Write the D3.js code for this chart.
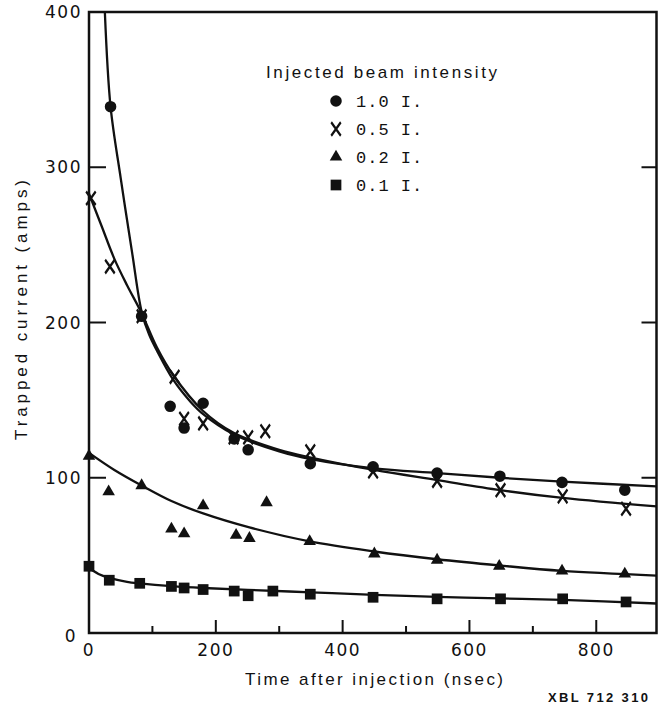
<!DOCTYPE html>
<html>
<head>
<meta charset="utf-8">
<script src="https://cdn.jsdelivr.net/npm/d3@7"></script>
<style>
    body { margin: 0; background: #fff; }
    svg { display: block; }
    text { fill: #111; }
</style>
</head>
<body>
<svg id="chart" width="668" height="711"></svg>
<script>
// DATA: time (nsec), trapped current (amps)
var series = [ "1.0 I.", "0.5 I.", "0.2 I.", "0.1 I." ];

var full = [ [ 34, 339 ], [ 83, 204 ], [ 128, 146 ], [ 150, 132 ], [ 180, 148 ], [ 229, 125 ], [ 251, 118 ], [ 349, 109 ], [ 448, 107 ], [ 549, 103 ], [ 648, 101 ], [ 746, 97 ], [ 845, 92 ] ];
var half = [ [ 3, 280 ], [ 33, 236 ], [ 83, 204 ], [ 135, 165 ], [ 150, 138 ], [ 180, 135 ], [ 228, 126 ], [ 251, 126 ], [ 278, 130 ], [ 349, 117 ], [ 448, 104 ], [ 549, 98 ], [ 649, 92 ], [ 747, 88 ], [ 847, 80 ] ];
var fifth = [ [ 0, 114 ], [ 31, 91 ], [ 83, 95 ], [ 130, 67 ], [ 150, 64 ], [ 180, 82 ], [ 232, 63 ], [ 253, 61 ], [ 280, 84 ], [ 348, 59 ], [ 450, 51 ], [ 549, 47 ], [ 647, 43 ], [ 746, 40 ], [ 845, 38 ] ];
var tenth = [ [ 0, 43 ], [ 32, 34 ], [ 80, 32 ], [ 130, 30 ], [ 150, 29 ], [ 180, 28 ], [ 229, 27 ], [ 251, 24 ], [ 290, 27 ], [ 349, 25 ], [ 448, 23 ], [ 549, 22 ], [ 649, 22 ], [ 747, 22 ], [ 847, 20 ] ];

// hand drawn fit curves
var fullFit = [ [ 25, 400 ], [ 34, 339 ], [ 50, 293 ], [ 68, 245 ], [ 83, 207 ], [ 95, 192 ], [ 107, 182 ], [ 133, 163 ], [ 160, 149 ], [ 180, 141 ], [ 228, 128 ], [ 300, 117 ], [ 350, 112 ], [ 450, 106 ], [ 549, 103 ], [ 648, 100 ], [ 746, 97.5 ], [ 895, 94.5 ] ];
var halfFit = [ [ 0, 283 ], [ 20, 262 ], [ 40, 241 ], [ 60, 224 ], [ 83, 206 ], [ 107, 184 ], [ 133, 166 ], [ 180, 143 ], [ 228, 129 ], [ 300, 118 ], [ 350, 113 ], [ 450, 105 ], [ 549, 98.5 ], [ 649, 92 ], [ 747, 87 ], [ 895, 81.5 ] ];
var fifthFit = [ [ 0, 116 ], [ 40, 105 ], [ 83, 95 ], [ 130, 85 ], [ 180, 77 ], [ 253, 68 ], [ 348, 59 ], [ 450, 52.5 ], [ 549, 47.5 ], [ 647, 43.5 ], [ 746, 40 ], [ 895, 37 ] ];
var tenthFit = [ [ 0, 42 ], [ 15, 38 ], [ 32, 35.5 ], [ 60, 33 ], [ 80, 32 ], [ 130, 30.2 ], [ 180, 29 ], [ 250, 27.8 ], [ 350, 26.2 ], [ 450, 24.6 ], [ 549, 23.3 ], [ 649, 22.3 ], [ 747, 21.3 ], [ 895, 19 ] ];

var xTicks = [ 0, 200, 400, 600, 800 ];
var xMinorTicks = [ 100, 300, 500, 700 ];
var yTicks = [ 0, 100, 200, 300, 400 ];

var xMax = 895;
var yMax = 400;

// SCALES
var svg = d3.select( "#chart" );
var x = d3.scaleLinear().domain( [ 0, xMax ] ).range( [ 89, 656.5 ] );
var y = d3.scaleLinear().domain( [ 0, yMax ] ).range( [ 633, 12 ] );

var ink = "#111";

// FRAME (box round the plot)
svg.append( "rect" )
    .attr( "x", x( 0 ) )
    .attr( "y", y( yMax ) )
    .attr( "width", x( xMax ) - x( 0 ) )
    .attr( "height", y( 0 ) - y( yMax ) )
    .attr( "fill", "none" )
    .attr( "stroke", ink )
    .attr( "stroke-width", 2.5 );

// inward ticks on left, right and bottom
var tickLayer = svg.append( "g" ).attr( "stroke", ink ).attr( "stroke-width", 2 );

yTicks.filter( d => d > 0 && d < yMax ).forEach( function ( d ) {
    tickLayer.append( "line" )
        .attr( "x1", x( 0 ) ).attr( "x2", x( 0 ) + 17 )
        .attr( "y1", y( d ) ).attr( "y2", y( d ) );
    tickLayer.append( "line" )
        .attr( "x1", x( xMax ) ).attr( "x2", x( xMax ) - 15 )
        .attr( "y1", y( d ) ).attr( "y2", y( d ) );
} );

xTicks.filter( d => d > 0 ).forEach( function ( d ) {
    tickLayer.append( "line" )
        .attr( "x1", x( d ) ).attr( "x2", x( d ) )
        .attr( "y1", y( 0 ) ).attr( "y2", y( 0 ) - 13 );
} );
xMinorTicks.forEach( function ( d ) {
    tickLayer.append( "line" )
        .attr( "x1", x( d ) ).attr( "x2", x( d ) )
        .attr( "y1", y( 0 ) ).attr( "y2", y( 0 ) - 7 );
} );

// TICK LABELS
var labelFont = "'DejaVu Sans', sans-serif";

svg.append( "g" ).selectAll( "text" )
    .data( yTicks )
    .enter()
    .append( "text" )
    .attr( "x", d => d === 0 ? x( 0 ) - 12 : x( 0 ) - 7 )
    .attr( "y", d => y( d ) )
    .attr( "dy", d => d === 0 ? "0.55em" : "0.36em" )
    .attr( "text-anchor", "end" )
    .attr( "font-family", labelFont )
    .attr( "font-size", 17 )
    .attr( "letter-spacing", 1.5 )
    .text( d => d );

svg.append( "g" ).selectAll( "text" )
    .data( xTicks )
    .enter()
    .append( "text" )
    .attr( "x", d => x( d ) )
    .attr( "y", y( 0 ) + 23 )
    .attr( "text-anchor", "middle" )
    .attr( "font-family", labelFont )
    .attr( "font-size", 17 )
    .attr( "letter-spacing", 1.5 )
    .text( d => d );

// AXIS TITLES
svg.append( "text" )
    .attr( "x", 245 )
    .attr( "y", 685 )
    .attr( "font-family", "'Liberation Sans', sans-serif" )
    .attr( "font-size", 17 )
    .attr( "textLength", 258 )
    .attr( "lengthAdjust", "spacing" )
    .text( "Time after injection (nsec)" );

svg.append( "text" )
    .attr( "transform", "translate(27,440) rotate(-90)" )
    .attr( "font-family", "'Liberation Sans', sans-serif" )
    .attr( "font-size", 17 )
    .attr( "textLength", 260 )
    .attr( "lengthAdjust", "spacing" )
    .text( "Trapped current (amps)" );

svg.append( "text" )
    .attr( "x", 548 )
    .attr( "y", 702 )
    .attr( "font-family", "'Liberation Sans', sans-serif" )
    .attr( "font-weight", "bold" )
    .attr( "font-size", 13 )
    .attr( "textLength", 100 )
    .attr( "lengthAdjust", "spacing" )
    .text( "XBL 712 310" );

// MARKERS
var shapes = [
    { sym: d3.symbolCircle, size: 105, fill: true },
    { sym: d3.symbolX, size: 85, fill: false },
    { sym: d3.symbolTriangle, size: 68, fill: true },
    { sym: d3.symbolSquare, size: 115, fill: true }
];

function drawMarker( g, i, px, py ) {
    var s = shapes[ i ];
    var p = g.append( "path" )
        .attr( "d", d3.symbol( s.sym, s.size )() );
    if ( s.fill ) {
        p.attr( "fill", ink ).attr( "transform", "translate(" + px + "," + py + ")" );
    } else {
        p.attr( "fill", "none" )
            .attr( "stroke", ink )
            .attr( "stroke-width", 2.4 )
            .attr( "transform", "translate(" + px + "," + py + ") scale(0.85,1.2)" );
    }
}

// FIT CURVES
var line = d3.line()
    .x( d => x( d[ 0 ] ) )
    .y( d => y( d[ 1 ] ) )
    .curve( d3.curveCatmullRom.alpha( 0.5 ) );

svg.append( "clipPath" ).attr( "id", "plot-clip" )
    .append( "rect" )
    .attr( "x", x( 0 ) ).attr( "y", y( yMax ) )
    .attr( "width", x( xMax ) - x( 0 ) ).attr( "height", y( 0 ) - y( yMax ) );

var curves = svg.append( "g" ).attr( "clip-path", "url(#plot-clip)" );
[ fullFit, halfFit, fifthFit, tenthFit ].forEach( function ( fit ) {
    curves.append( "path" )
        .attr( "d", line( fit ) )
        .attr( "fill", "none" )
        .attr( "stroke", ink )
        .attr( "stroke-width", 2.3 );
} );

// DATA POINTS
var points = svg.append( "g" );
[ full, half, fifth, tenth ].forEach( function ( set, i ) {
    set.forEach( function ( d ) {
        drawMarker( points, i, x( d[ 0 ] ), y( d[ 1 ] ) );
    } );
} );

// LEGEND
var legend = svg.append( "g" );
legend.append( "text" )
    .attr( "x", 266 )
    .attr( "y", 78 )
    .attr( "font-family", "'Liberation Sans', sans-serif" )
    .attr( "font-size", 17 )
    .attr( "textLength", 231 )
    .attr( "lengthAdjust", "spacing" )
    .text( "Injected beam intensity" );

series.forEach( function ( name, i ) {
    var cy = 101 + i * 28;
    drawMarker( legend, i, 336, cy );
    legend.append( "text" )
        .attr( "x", 356 )
        .attr( "y", cy + 6 )
        .attr( "font-family", "'Liberation Mono', monospace" )
        .attr( "font-size", 17 )
        .attr( "letter-spacing", 1 )
        .text( name );
} );
</script>
</body>
</html>
